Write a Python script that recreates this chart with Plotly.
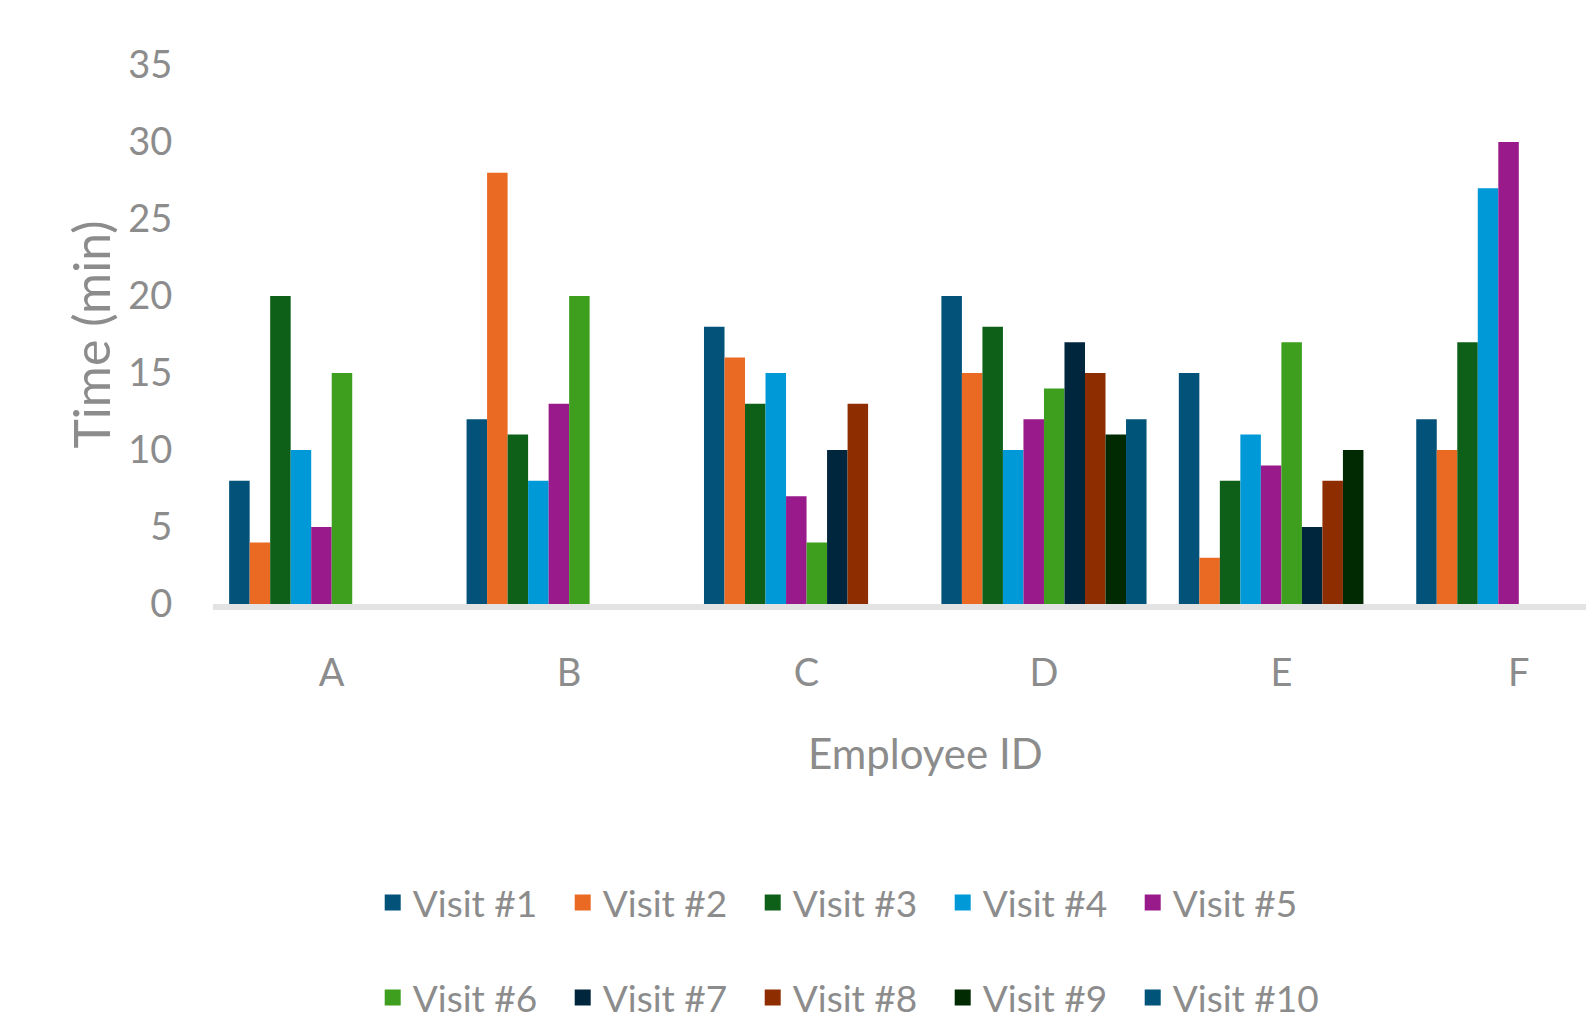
import plotly.graph_objects as go

employees = ["A", "B", "C", "D", "E", "F"]
visit_names = ["Visit #1", "Visit #2", "Visit #3", "Visit #4", "Visit #5",
               "Visit #6", "Visit #7", "Visit #8", "Visit #9", "Visit #10"]

visit1 = [8, 12, 18, 20, 15, 12]
visit2 = [4, 28, 16, 15, 3, 10]
visit3 = [20, 11, 13, 18, 8, 17]
visit4 = [10, 8, 15, 10, 11, 27]
visit5 = [5, 13, 7, 12, 9, 30]
visit6 = [15, 20, 4, 14, 17, None]
visit7 = [None, None, 10, 17, 5, None]
visit8 = [None, None, 13, 15, 8, None]
visit9 = [None, None, None, 11, 10, None]
visit10 = [None, None, None, 12, None, None]

series = [visit1, visit2, visit3, visit4, visit5,
          visit6, visit7, visit8, visit9, visit10]

colors = ["#03527A", "#EA6A23", "#0E6018", "#0099D8", "#991A8A",
          "#3E9F1F", "#00263E", "#8E2E00", "#012A03", "#015479"]

y_ticks = [0, 5, 10, 15, 20, 25, 30, 35]

FONT = "Lato"
GRAY = "#8c8c8c"

fig = go.Figure()
for name, vals, col in zip(visit_names, series, colors):
    fig.add_trace(go.Bar(x=employees, y=vals, name=name, marker_color=col,
                         marker_line_width=0, showlegend=False))

for i, (name, col) in enumerate(zip(visit_names, colors)):
    fig.add_trace(go.Scatter(x=[None], y=[None], mode="markers", name=name,
                             marker=dict(symbol="square", size=16, color=col),
                             legend="legend" if i < 5 else "legend2",
                             showlegend=True))

legend_common = dict(orientation="h", xref="container", yref="container",
                     x=0.235, xanchor="left", yanchor="middle",
                     font=dict(family=FONT, size=37, color=GRAY),
                     entrywidth=145, entrywidthmode="pixels",
                     bgcolor="rgba(0,0,0,0)", itemclick=False)

fig.update_layout(
    width=1586, height=1023,
    margin=dict(l=213, r=0, t=65, b=419),
    plot_bgcolor="white", paper_bgcolor="white",
    barmode="group", bargap=0.136, bargroupgap=0,
    font=dict(family=FONT, color=GRAY),
    legend=dict(**legend_common, y=1 - 903 / 1023),
    legend2=dict(**legend_common, y=1 - 998 / 1023),
    xaxis=dict(type="category", range=[-0.5, 5.283], showgrid=False,
               zeroline=False, showline=True, linecolor="#e3e3e3", linewidth=6,
               ticks="outside", ticklen=30, tickcolor="rgba(0,0,0,0)",
               tickfont=dict(family=FONT, size=38, color=GRAY)),
    yaxis=dict(range=[0, 35], tickvals=y_ticks, showgrid=False, zeroline=False,
               showline=False, ticks="outside", ticklen=32,
               tickcolor="rgba(0,0,0,0)",
               tickfont=dict(family=FONT, size=38, color=GRAY),
               title=dict(text="Time (min)", standoff=1,
                          font=dict(family=FONT, size=50, color=GRAY))),
    annotations=[dict(text="Employee ID", xref="x", x=2.5, yref="paper",
                      y=-0.2764, yanchor="middle", showarrow=False,
                      font=dict(family=FONT, size=42, color=GRAY))],
)

fig.write_html("out.html")
